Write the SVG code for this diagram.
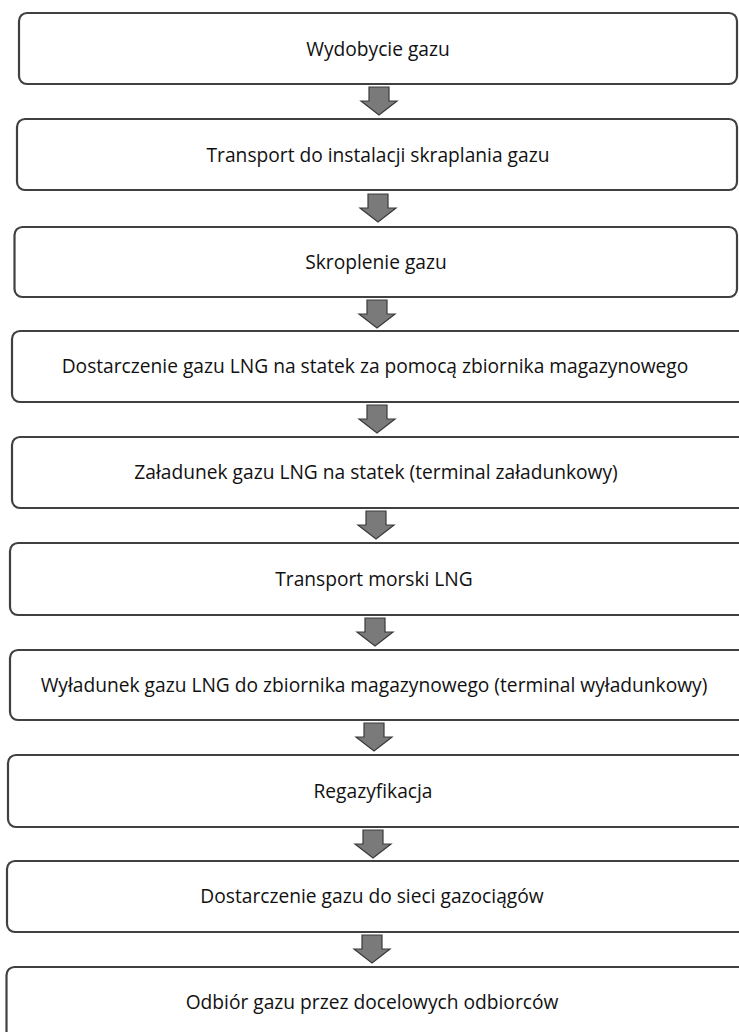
<svg xmlns="http://www.w3.org/2000/svg" width="739" height="1032" viewBox="0 0 739 1032">
  <defs>
    <style>
      .box { fill: #ffffff; stroke: #404040; stroke-width: 2.2; }
      .lbl { font-family: "Open Sans", "Liberation Sans", sans-serif; font-size: 19.2px; fill: #111111; text-anchor: middle; }
      .arrow { fill: #7a7a7a; stroke: #3a3a3a; stroke-width: 1.2; stroke-linejoin: miter; }
    </style>
    <!-- block arrow pointing down, origin at top-centre -->
    <path id="down" d="M -10 0 H 10 V 14 H 18 L 0 28 L -18 14 H -10 Z"/>
  </defs>
  <rect width="739" height="1032" fill="#ffffff"/>

  <g id="connectors">
    <use href="#down" class="arrow" x="379" y="87"/>
    <use href="#down" class="arrow" x="378" y="194"/>
    <use href="#down" class="arrow" x="377" y="300"/>
    <use href="#down" class="arrow" x="377" y="405"/>
    <use href="#down" class="arrow" x="376" y="511"/>
    <use href="#down" class="arrow" x="375" y="618"/>
    <use href="#down" class="arrow" x="374" y="723"/>
    <use href="#down" class="arrow" x="373" y="830"/>
    <use href="#down" class="arrow" x="372" y="935"/>
  </g>

  <g id="n1">
    <rect class="box" x="19" y="13" width="718" height="71" rx="8"/>
    <text class="lbl" x="378" y="56">Wydobycie gazu</text>
  </g>
  <g id="n2">
    <rect class="box" x="17" y="119" width="720" height="71" rx="8"/>
    <text class="lbl" x="378" y="162">Transport do instalacji skraplania gazu</text>
  </g>
  <g id="n3">
    <rect class="box" x="14.5" y="227" width="722.5" height="70" rx="8"/>
    <text class="lbl" x="376" y="269">Skroplenie gazu</text>
  </g>
  <g id="n4">
    <rect class="box" x="12" y="331" width="740" height="71" rx="8"/>
    <text class="lbl" x="375" y="373">Dostarczenie gazu LNG na statek za pomocą zbiornika magazynowego</text>
  </g>
  <g id="n5">
    <rect class="box" x="12" y="437" width="740" height="71" rx="8"/>
    <text class="lbl" x="376" y="479">Załadunek gazu LNG na statek (terminal załadunkowy)</text>
  </g>
  <g id="n6">
    <rect class="box" x="10" y="543" width="740" height="72" rx="8"/>
    <text class="lbl" x="374" y="586">Transport morski LNG</text>
  </g>
  <g id="n7">
    <rect class="box" x="10" y="650" width="740" height="70" rx="8"/>
    <text class="lbl" x="374" y="692">Wyładunek gazu LNG do zbiornika magazynowego (terminal wyładunkowy)</text>
  </g>
  <g id="n8">
    <rect class="box" x="8" y="755" width="742" height="72" rx="8"/>
    <text class="lbl" x="373" y="798">Regazyfikacja</text>
  </g>
  <g id="n9">
    <rect class="box" x="7" y="861" width="743" height="71" rx="8"/>
    <text class="lbl" x="372" y="903">Dostarczenie gazu do sieci gazociągów</text>
  </g>
  <g id="n10">
    <rect class="box" x="6.5" y="967" width="743" height="80" rx="8"/>
    <text class="lbl" x="372" y="1009">Odbiór gazu przez docelowych odbiorców</text>
  </g>
</svg>
